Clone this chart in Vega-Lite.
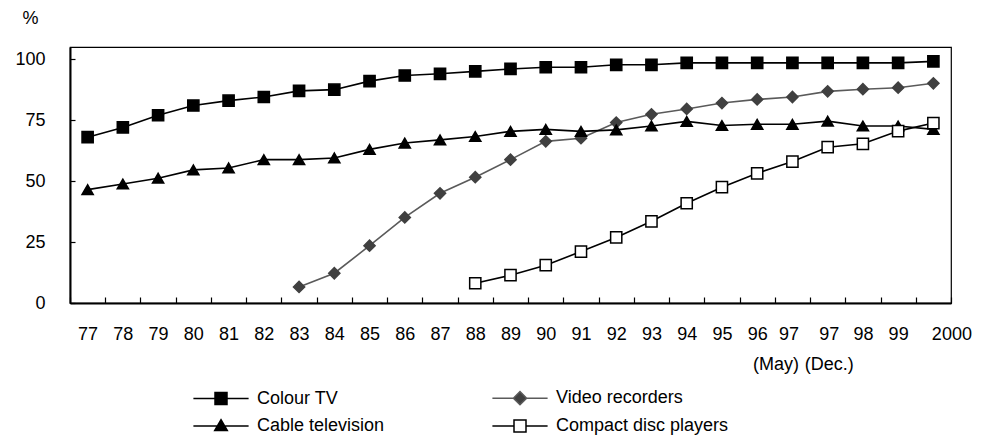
{
  "$schema": "https://vega.github.io/schema/vega-lite/v6.json",
  "autosize": {"type": "none"},
  "width": 881,
  "height": 256,
  "padding": {"left": 70, "top": 47, "right": 42, "bottom": 140},
  "background": "white",
  "config": {
    "view": {"stroke": "black", "strokeWidth": 1.2},
    "axis": {"grid": false, "domainColor": "black", "domainWidth": 2, "tickColor": "black", "tickWidth": 1.2, "labelColor": "black"}
  },
  "data": {
    "values": [
      {"year": "77", "series": "Colour TV", "value": 68},
      {"year": "78", "series": "Colour TV", "value": 72},
      {"year": "79", "series": "Colour TV", "value": 77},
      {"year": "80", "series": "Colour TV", "value": 81},
      {"year": "81", "series": "Colour TV", "value": 83},
      {"year": "82", "series": "Colour TV", "value": 84.5},
      {"year": "83", "series": "Colour TV", "value": 87},
      {"year": "84", "series": "Colour TV", "value": 87.5},
      {"year": "85", "series": "Colour TV", "value": 91},
      {"year": "86", "series": "Colour TV", "value": 93.3},
      {"year": "87", "series": "Colour TV", "value": 94},
      {"year": "88", "series": "Colour TV", "value": 95},
      {"year": "89", "series": "Colour TV", "value": 96},
      {"year": "90", "series": "Colour TV", "value": 96.7},
      {"year": "91", "series": "Colour TV", "value": 96.7},
      {"year": "92", "series": "Colour TV", "value": 97.7},
      {"year": "93", "series": "Colour TV", "value": 97.7},
      {"year": "94", "series": "Colour TV", "value": 98.5},
      {"year": "95", "series": "Colour TV", "value": 98.5},
      {"year": "96", "series": "Colour TV", "value": 98.5},
      {"year": "97 (May)", "series": "Colour TV", "value": 98.5},
      {"year": "97 (Dec.)", "series": "Colour TV", "value": 98.5},
      {"year": "98", "series": "Colour TV", "value": 98.5},
      {"year": "99", "series": "Colour TV", "value": 98.5},
      {"year": "2000", "series": "Colour TV", "value": 99.1},
      {"year": "83", "series": "Video recorders", "value": 6.6},
      {"year": "84", "series": "Video recorders", "value": 12.2},
      {"year": "85", "series": "Video recorders", "value": 23.5},
      {"year": "86", "series": "Video recorders", "value": 35.1},
      {"year": "87", "series": "Video recorders", "value": 45},
      {"year": "88", "series": "Video recorders", "value": 51.6},
      {"year": "89", "series": "Video recorders", "value": 58.8},
      {"year": "90", "series": "Video recorders", "value": 66.3},
      {"year": "91", "series": "Video recorders", "value": 67.6},
      {"year": "92", "series": "Video recorders", "value": 74},
      {"year": "93", "series": "Video recorders", "value": 77.4},
      {"year": "94", "series": "Video recorders", "value": 79.6},
      {"year": "95", "series": "Video recorders", "value": 82},
      {"year": "96", "series": "Video recorders", "value": 83.5},
      {"year": "97 (May)", "series": "Video recorders", "value": 84.5},
      {"year": "97 (Dec.)", "series": "Video recorders", "value": 86.8},
      {"year": "98", "series": "Video recorders", "value": 87.7},
      {"year": "99", "series": "Video recorders", "value": 88.3},
      {"year": "2000", "series": "Video recorders", "value": 90.1},
      {"year": "77", "series": "Cable television", "value": 46.5},
      {"year": "78", "series": "Cable television", "value": 48.8},
      {"year": "79", "series": "Cable television", "value": 51.2},
      {"year": "80", "series": "Cable television", "value": 54.6},
      {"year": "81", "series": "Cable television", "value": 55.4},
      {"year": "82", "series": "Cable television", "value": 58.8},
      {"year": "83", "series": "Cable television", "value": 58.8},
      {"year": "84", "series": "Cable television", "value": 59.5},
      {"year": "85", "series": "Cable television", "value": 63},
      {"year": "86", "series": "Cable television", "value": 65.6},
      {"year": "87", "series": "Cable television", "value": 66.9},
      {"year": "88", "series": "Cable television", "value": 68.3},
      {"year": "89", "series": "Cable television", "value": 70.4},
      {"year": "90", "series": "Cable television", "value": 71.2},
      {"year": "91", "series": "Cable television", "value": 70.4},
      {"year": "92", "series": "Cable television", "value": 71},
      {"year": "93", "series": "Cable television", "value": 72.6},
      {"year": "94", "series": "Cable television", "value": 74.5},
      {"year": "95", "series": "Cable television", "value": 72.8},
      {"year": "96", "series": "Cable television", "value": 73.3},
      {"year": "97 (May)", "series": "Cable television", "value": 73.3},
      {"year": "97 (Dec.)", "series": "Cable television", "value": 74.6},
      {"year": "98", "series": "Cable television", "value": 72.6},
      {"year": "99", "series": "Cable television", "value": 72.6},
      {"year": "2000", "series": "Cable television", "value": 71.2},
      {"year": "88", "series": "Compact disc players", "value": 8.1},
      {"year": "89", "series": "Compact disc players", "value": 11.4},
      {"year": "90", "series": "Compact disc players", "value": 15.5},
      {"year": "91", "series": "Compact disc players", "value": 21.1},
      {"year": "92", "series": "Compact disc players", "value": 26.9},
      {"year": "93", "series": "Compact disc players", "value": 33.5},
      {"year": "94", "series": "Compact disc players", "value": 40.9},
      {"year": "95", "series": "Compact disc players", "value": 47.5},
      {"year": "96", "series": "Compact disc players", "value": 53.2},
      {"year": "97 (May)", "series": "Compact disc players", "value": 58},
      {"year": "97 (Dec.)", "series": "Compact disc players", "value": 63.9},
      {"year": "98", "series": "Compact disc players", "value": 65.3},
      {"year": "99", "series": "Compact disc players", "value": 70.5},
      {"year": "2000", "series": "Compact disc players", "value": 73.8}
    ]
  },
  "encoding": {
    "x": {
      "field": "year", "type": "ordinal", "sort": null,
      "scale": {"type": "band", "paddingInner": 0, "paddingOuter": 0,
        "domain": ["77","78","79","80","81","82","83","84","85","86","87","88","89","90","91","92","93","94","95","96","97 (May)","97 (Dec.)","98","99","2000"]},
      "axis": {
        "title": null, "labelAngle": 0, "tickBand": "extent", "tickSize": -6,
        "labelPadding": 28, "labelOverlap": false,
        "labelFont": "Liberation Sans", "labelFontSize": 18, "labelLineHeight": 30, "labelBaseline": "top",
        "labelExpr": "!isValid(datum.value) ? '' : split(datum.value, ' ')",
        "labelAlign": {"condition": {"test": "datum.value == '97 (May)'", "value": "right"}, "value": "center"},
        "labelOffset": {"condition": [
          {"test": "datum.value == '2000'", "value": 18},
          {"test": "datum.value == '97 (May)'", "value": 6},
          {"test": "datum.value == '97 (Dec.)'", "value": 1}
        ], "value": 0}
      }
    },
    "y": {
      "field": "value", "type": "quantitative",
      "scale": {"domain": [0, 105], "nice": false, "zero": true},
      "axis": {
        "values": [0, 25, 50, 75, 100], "tickSize": -5, "labelPadding": 30,
        "labelFont": "Liberation Sans", "labelFontSize": 18,
        "title": "%", "titleAngle": 0, "titleX": -40, "titleY": -29,
        "titleAlign": "center", "titleBaseline": "middle",
        "titleFont": "Liberation Sans", "titleFontSize": 18, "titleFontWeight": "normal", "titleColor": "black"
      }
    }
  },
  "layer": [
    {
      "mark": {"type": "line", "strokeWidth": 1.6},
      "encoding": {
        "stroke": {"field": "series", "type": "nominal", "legend": null,
          "scale": {"domain": ["Colour TV", "Video recorders", "Cable television", "Compact disc players"],
                    "range": ["#000000", "#5a5a5a", "#000000", "#000000"]}}
      }
    },
    {
      "mark": {"type": "point", "filled": true, "size": 125, "strokeWidth": 1.5, "opacity": 1},
      "encoding": {
        "shape": {"field": "series", "type": "nominal", "legend": null,
          "scale": {"domain": ["Colour TV", "Video recorders", "Cable television", "Compact disc players"],
                    "range": ["square", "diamond", "triangle-up", "square"]}},
        "fill": {"field": "series", "type": "nominal", "legend": null,
          "scale": {"domain": ["Colour TV", "Video recorders", "Cable television", "Compact disc players"],
                    "range": ["#000000", "#404040", "#000000", "#ffffff"]}},
        "stroke": {"field": "series", "type": "nominal", "legend": null,
          "scale": {"domain": ["Colour TV", "Video recorders", "Cable television", "Compact disc players"],
                    "range": ["#000000", "#404040", "#000000", "#000000"]}}
      }
    },
    {
      "transform": [{"filter": "false"}],
      "mark": {"type": "point", "filled": true, "strokeWidth": 1.5, "opacity": 1},
      "encoding": {
        "shape": {"field": "series", "type": "nominal", "title": null,
          "scale": {"domain": ["Colour TV", "Video recorders", "Cable television", "Compact disc players"],
                    "range": [
                      "M-4.6,0H-1M1,0H4.6M-1,-1H1V1H-1Z",
                      "M-4.6,0H-1.1M1.1,0H4.6M-1.1,0L0,-1.1L1.1,0L0,1.1Z",
                      "M-4.6,0H-0.6M0.6,0H4.6M0,-1.05L1.05,0.75H-1.05Z",
                      "M-4.6,0H-1M1,0H4.6M-1,-1H1V1H-1Z"
                    ]},
          "legend": {
            "orient": "none", "legendX": 142, "legendY": 342, "columns": 2, "direction": "horizontal",
            "padding": 0, "symbolSize": 144, "symbolStrokeWidth": 1.5, "labelOffset": 27,
            "columnPadding": 104, "rowPadding": 8,
            "labelFont": "Liberation Sans", "labelFontSize": 18, "labelColor": "black", "labelLimit": 400
          }},
        "fill": {"field": "series", "type": "nominal", "title": null,
          "scale": {"domain": ["Colour TV", "Video recorders", "Cable television", "Compact disc players"],
                    "range": ["#000000", "#404040", "#000000", "#ffffff"]}},
        "stroke": {"field": "series", "type": "nominal", "title": null,
          "scale": {"domain": ["Colour TV", "Video recorders", "Cable television", "Compact disc players"],
                    "range": ["#000000", "#5a5a5a", "#000000", "#000000"]}}
      }
    }
  ],
  "resolve": {"scale": {"shape": "independent", "fill": "independent", "stroke": "independent"}}
}
